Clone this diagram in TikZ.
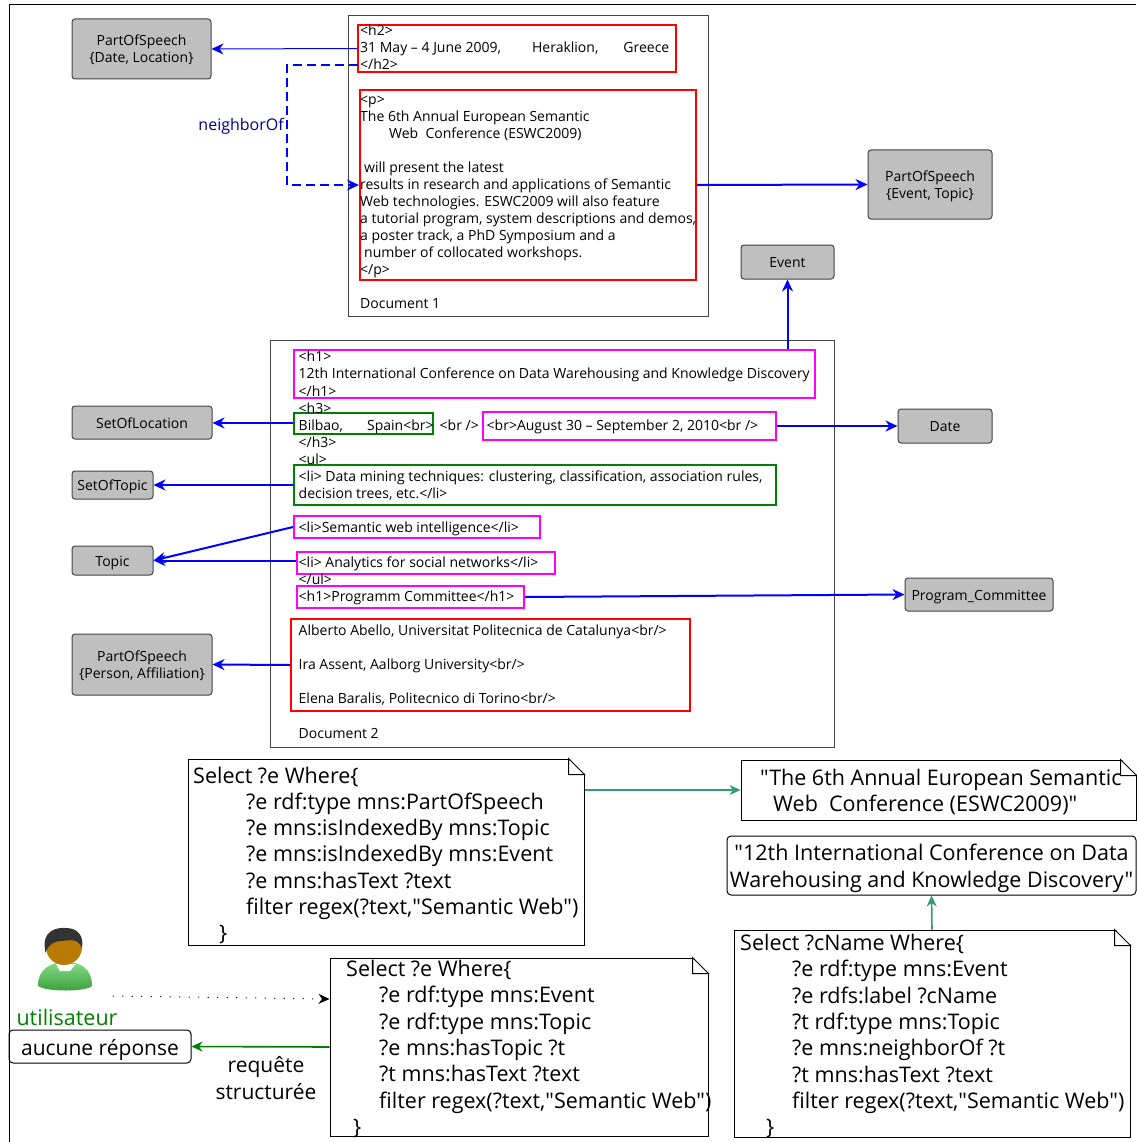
\documentclass[tikz,border=0pt]{standalone}
\usepackage{fontspec}
\newfontfamily\MyFont{Open Sans}
\usetikzlibrary{arrows.meta}
\usetikzlibrary{shapes.geometric}
\definecolor{clrgray}{HTML}{BFBFBF}
\definecolor{clrframe}{HTML}{444444}
\definecolor{clrsea}{HTML}{2E9E6E}
\definecolor{clrgreen}{HTML}{008000}
\definecolor{clrpink}{HTML}{FF00FF}
\definecolor{clrbodya}{HTML}{86DB86}
\definecolor{clrbodyb}{HTML}{3A9E3A}
\definecolor{clrhead}{HTML}{B87A00}
\tikzset{
    MyDoc/.style={draw=clrframe,line width=1pt,inner sep=0pt},
    MyGray/.style={draw=clrframe,fill=clrgray,line width=1pt,rounded corners=3pt,inner sep=0pt,align=center,font=\MySmall,text height=14pt,text depth=3pt},
    MyTwoLine/.style={text height=31pt,text depth=3pt},
    MyMark/.style={line width=2pt,inner sep=0pt},
    MyNote/.style={draw=black,line width=1pt,inner sep=0pt},
    MyRound/.style={draw=black,line width=1pt,rounded corners=4pt,inner sep=0pt,align=center},
    MyText/.style={inner sep=0pt,align=left,anchor=north west},
    MyLink/.style={-{Stealth[length=12pt,width=11pt]},blue,line width=2pt},
    MyThin/.style={-{Stealth[length=12pt,width=11pt]},blue,line width=1pt},
    MySea/.style={-{Stealth[length=11pt,width=10pt]},clrsea,line width=1.6pt}
}
\newcommand{\MySmall}{\MyFont\fontsize{14}{17}\selectfont}
\newcommand{\MyDocA}{\MyFont\fontsize{14}{17.05}\selectfont}
\newcommand{\MyDocB}{\MyFont\fontsize{14}{17.1}\selectfont}
\newcommand{\MyBig}{\MyFont\fontsize{21.5}{26.3}\selectfont}
\begin{document}
\begin{tikzpicture}[x=1pt,y=-1pt]
    \useasboundingbox (0,0) rectangle (1136,1142);
    \draw[line width=1pt] (9,1142) -- (9,4.5) -- (1136,4.5);% outer frame

    % the two documents
    \node[MyDoc,minimum width=360pt,minimum height=300pt] (DocOne) at (528,166) {};
    \node[MyDoc,minimum width=564pt,minimum height=407pt] (DocTwo) at (552,543.5) {};

    % marked parts of the documents
    \node[MyMark,draw=red,minimum width=318pt,minimum height=47pt] (HTwo) at (517,48.5) {};
    \node[MyMark,draw=red,minimum width=336pt,minimum height=190pt] (ParaOne) at (528,185) {};
    \node[MyMark,draw=clrpink,minimum width=521pt,minimum height=48pt] (HOne) at (554.5,374) {};
    \node[MyMark,draw=clrgreen,minimum width=139pt,minimum height=21pt] (Bilbao) at (363.5,423) {};
    \node[MyMark,draw=clrpink,minimum width=293pt,minimum height=28pt] (August) at (629.5,426) {};
    \node[MyMark,draw=clrgreen,minimum width=482pt,minimum height=40pt] (Mining) at (535,485) {};
    \node[MyMark,draw=clrpink,minimum width=246pt,minimum height=22pt] (Intel) at (417,527) {};
    \node[MyMark,draw=clrpink,minimum width=258pt,minimum height=22pt] (Social) at (426,563) {};
    \node[MyMark,draw=clrpink,minimum width=227pt,minimum height=22pt] (Committee) at (410.5,597) {};
    \node[MyMark,draw=red,minimum width=399pt,minimum height=92pt] (Authors) at (490.5,665) {};

    % text of the documents
    \node[MyText,font=\MyDocA] (TextOne) at (360,25) {%
    <h2>\\
    31 May – 4 June 2009,\hspace{31pt}Heraklion,\hspace{25pt}Greece\\
    </h2>\\
    ~\\
    <p>\\
    The 6th Annual European Semantic\\
    \hspace*{29pt}Web\ \ Conference (ESWC2009)\\
    ~\\
    \hspace*{4pt}will present the latest\\
    results in research and applications of Semantic\\
    Web technologies. ESWC2009 will also feature\\
    a tutorial program, system descriptions and demos,\\
    a poster track, a PhD Symposium and a\\
    \hspace*{4pt}number of collocated workshops.\\
    </p>\\
    ~\\
    Document 1};
    \node[MyText,font=\MyDocB] (TextTwo) at (298.5,351) {%
    <h1>\\
    12th International Conference on Data Warehousing and Knowledge Discovery\\
    </h1>\\
    <h3>\\
    \makebox[141pt][l]{Bilbao,\hspace{24pt}Spain<br>}\makebox[47pt][l]{<br />}<br>August 30 – September 2, 2010<br />\\
    </h3>\\
    <ul>\\
    <li> Data mining techniques: clustering, classification, association rules,\\
    decision trees, etc.</li>\\
    ~\\
    <li>Semantic web intelligence</li>\\
    ~\\
    <li> Analytics for social networks</li>\\
    </ul>\\
    <h1>Programm Committee</h1>\\
    ~\\
    Alberto Abello, Universitat Politecnica de Catalunya<br/>\\
    ~\\
    Ira Assent, Aalborg University<br/>\\
    ~\\
    Elena Baralis, Politecnico di Torino<br/>\\
    ~\\
    Document 2};

    % concepts
    \node[MyGray,MyTwoLine,minimum width=139pt,minimum height=60pt] (PosDate) at (141.5,49) {PartOfSpeech\\\{Date, Location\}};
    \node[MyGray,MyTwoLine,minimum width=124pt,minimum height=69pt] (PosEvent) at (930,184.5) {PartOfSpeech\\\{Event, Topic\}};
    \node[MyGray,minimum width=93pt,minimum height=34pt] (Event) at (787.5,262) {Event};
    \node[MyGray,minimum width=140pt,minimum height=33pt] (SetLoc) at (142,422.5) {SetOfLocation};
    \node[MyGray,minimum width=94pt,minimum height=34pt] (Date) at (945,426) {Date};
    \node[MyGray,minimum width=81pt,minimum height=28pt] (SetTopic) at (112.5,485) {SetOfTopic};
    \node[MyGray,minimum width=81pt,minimum height=29pt] (Topic) at (112.5,560.5) {Topic};
    \node[MyGray,MyTwoLine,minimum width=140pt,minimum height=61pt] (PosPerson) at (142,664.5) {PartOfSpeech\\\{Person, Affiliation\}};
    \node[MyGray,minimum width=148pt,minimum height=33pt] (Program) at (979,594.5) {Program\_Committee};

    \coordinate (NbStart) at (358,65);
    \draw[MyThin] (HTwo.west) -- (PosDate.east);
    \draw[MyLink,dash pattern=on 9pt off 5pt] (NbStart) -- (287,65) -- (287,185) -- (ParaOne.west);
    \node[text=blue!55!black,font=\MyFont\fontsize{16}{17}\selectfont,inner sep=0pt,anchor=east] (Neighbor) at (284,126) {neighborOf};
    \draw[MyLink] (ParaOne.east) -- (PosEvent.west);
    \draw[MyLink] (Event.south |- HOne.north) -- (Event.south);
    \draw[MyLink] (Bilbao.west) -- (SetLoc.east |- Bilbao.west);
    \draw[MyLink] (August.east) -- (Date.west);
    \draw[MyLink] (Mining.west) -- (SetTopic.east);
    \draw[MyLink] (Intel.west) -- (Topic.east);
    \draw[MyLink] (Social.west |- Topic.east) -- (Topic.east);
    \draw[MyLink] (Committee.east) -- (Program.west);
    \draw[MyLink] (Authors.west) -- (PosPerson.east);

    % queries and answers
    \node[MyNote,minimum width=396pt,minimum height=186pt] (QueryOne) at (386,852) {};
    \node[MyNote,minimum width=378pt,minimum height=178pt] (QueryTwo) at (519,1047) {};
    \node[MyNote,minimum width=396pt,minimum height=207pt] (QueryThree) at (932,1033.5) {};
    \node[MyNote,minimum width=395pt,minimum height=60pt] (AnswerOne) at (938.5,790) {};
    \node[MyRound,minimum width=409pt,minimum height=59pt,font=\MyBig,text height=48pt,text depth=5pt] (AnswerTwo) at (931.5,865.5) {"12th International Conference on Data\\Warehousing and Knowledge Discovery"};
    \node[MyRound,minimum width=182pt,minimum height=33pt,font=\MyFont\fontsize{21}{26.3}\selectfont,text height=22pt,text depth=5pt] (NoAnswer) at (100,1046.5) {aucune réponse};

    \foreach \q in {QueryOne,QueryTwo,QueryThree,AnswerOne}
    {
    \fill[white] ([shift={(-16,-1)}]\q.north east) -- ([shift={(1,-1)}]\q.north east) -- ([shift={(1,16)}]\q.north east) -- cycle;
    \draw[line width=1pt] ([xshift=-16pt]\q.north east) -- ([yshift=-16pt]\q.north east) -- ([shift={(-16,16)}]\q.north east) -- cycle;
    }

    \node[MyText,font=\MyBig] (TextAnswerOne) at (760,769) {"The 6th Annual European Semantic\\\hspace*{13pt}Web\ \ Conference (ESWC2009)"};
    \node[MyText,font=\MyBig] (TextQueryOne) at (193,766.5) {%
    Select ?e Where\{\\
    \hspace*{53pt}?e rdf:type mns:PartOfSpeech\\
    \hspace*{53pt}?e mns:isIndexedBy mns:Topic\\
    \hspace*{53pt}?e mns:isIndexedBy mns:Event\\
    \hspace*{53pt}?e mns:hasText ?text\\
    \hspace*{53pt}filter regex(?text,"Semantic Web")\\
    \hspace*{26pt}\}};
    \node[MyText,font=\MyBig] (TextQueryTwo) at (346,960) {%
    Select ?e Where\{\\
    \hspace*{33pt}?e rdf:type mns:Event\\
    \hspace*{33pt}?e rdf:type mns:Topic\\
    \hspace*{33pt}?e mns:hasTopic ?t\\
    \hspace*{33pt}?t mns:hasText ?text\\
    \hspace*{33pt}filter regex(?text,"Semantic Web")\\
    \hspace*{7pt}\}};
    \node[MyText,font=\MyBig] (TextQueryThree) at (740,934) {%
    Select ?cName Where\{\\
    \hspace*{52pt}?e rdf:type mns:Event\\
    \hspace*{52pt}?e rdfs:label ?cName\\
    \hspace*{52pt}?t rdf:type mns:Topic\\
    \hspace*{52pt}?e mns:neighborOf ?t\\
    \hspace*{52pt}?t mns:hasText ?text\\
    \hspace*{52pt}filter regex(?text,"Semantic Web")\\
    \hspace*{26pt}\}};

    \draw[MySea] (QueryOne.east |- AnswerOne.west) -- (AnswerOne.west);
    \draw[MySea] (QueryThree.north) -- (AnswerTwo.south);

    % user
    \shade[top color=clrbodya,bottom color=clrbodyb] (38,986) .. controls (38,968) and (52,962) .. (66,962) .. controls (80,962) and (92,968) .. (92,986) .. controls (86,992) and (46,992) .. (38,986) -- cycle;
    \fill[white] (56,964) -- (76,964) -- (70,971) -- (60,971) -- cycle;
    \fill[clrhead] (64,947) ellipse [x radius=18pt,y radius=18pt];
    \fill[black!80] (45,949) .. controls (42,932) and (55,927) .. (66,928) .. controls (78,928) and (84,936) .. (82,948) .. controls (78,938) and (70,940) .. (62,941) .. controls (56,941) and (50,942) .. (45,953) -- cycle;
    \node[text=clrgreen,font=\MyFont\fontsize{21.5}{22}\selectfont,inner sep=0pt] (User) at (67,1017) {utilisateur};
    \coordinate (UserOut) at (113,996);
    \draw[-{Stealth[length=11pt,width=10pt]},line width=1pt,line cap=round,dash pattern=on 0.5pt off 9pt] (UserOut) -- (QueryTwo.west |- 0,999);
    \draw[-{Stealth[length=11pt,width=10pt]},clrgreen,line width=1.6pt] (QueryTwo.west) -- (NoAnswer.east);
    \node[font=\MyFont\fontsize{21}{26.3}\selectfont,align=center,inner sep=0pt] (Structured) at (266,1078) {requête\\structurée};
\end{tikzpicture}
\end{document}
